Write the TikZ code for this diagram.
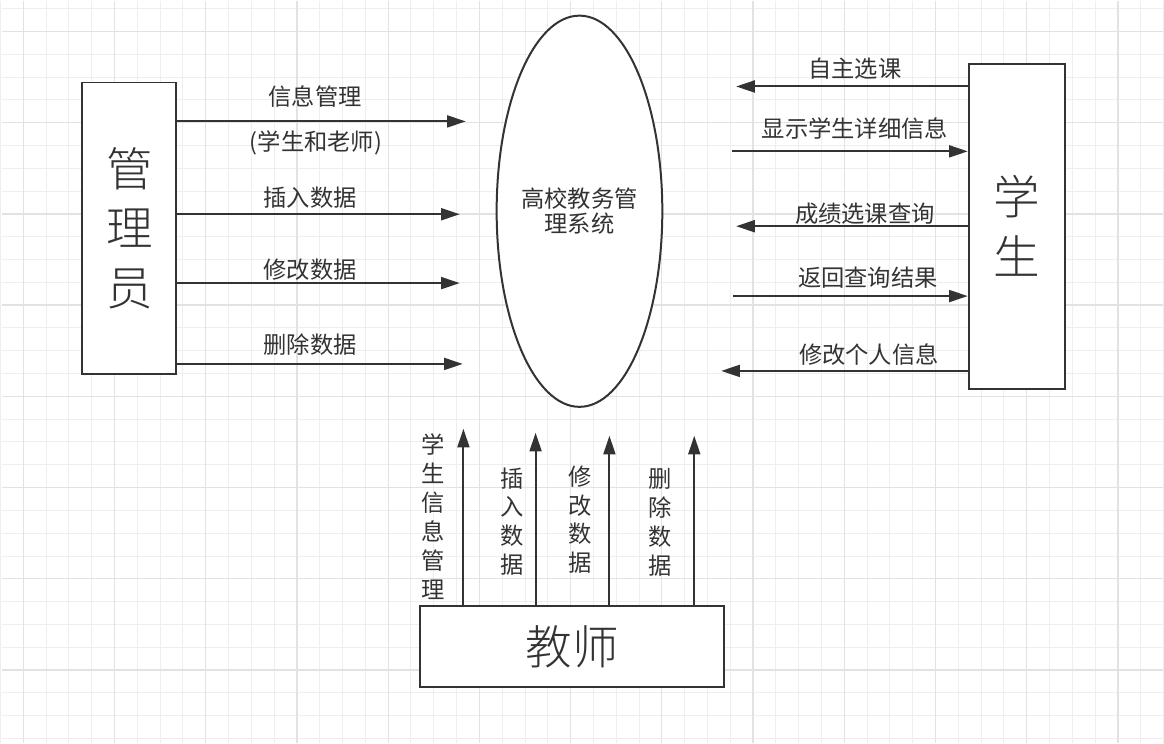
\documentclass[tikz,border=0pt]{standalone}
\usepackage{fontspec}
\newfontfamily\cjk{Noto Sans CJK SC}
\newfontfamily\cjkthin{Noto Sans CJK SC Light}
\usetikzlibrary{shapes.geometric, arrows.meta, positioning}
\definecolor{inkgray}{RGB}{51,51,51}
\definecolor{gridminor}{RGB}{238,238,238}
\definecolor{gridmajor}{RGB}{226,226,226}

\begin{document}
\begin{tikzpicture}[x=0.75pt, y=-0.75pt,
        entity/.style={rectangle, draw=inkgray, fill=white, line width=1.5pt, inner sep=0pt,
                       align=center, text=inkgray, font=\cjkthin\fontsize{35}{45}\selectfont},
        proc/.style={ellipse, draw=inkgray, fill=white, line width=1.5pt, inner sep=0pt,
                     align=center, text=inkgray, font=\cjk\fontsize{17.5}{18.75}\selectfont},
        arr/.style={-{Triangle[length=14pt, width=9pt]}, line width=1.5pt, inkgray},
        lbl/.style={text=inkgray, inner sep=0pt, font=\cjk\fontsize{17.5}{21.75}\selectfont},
        vlbl/.style={lbl, align=center}
    ]
        % background grid
        \fill[white] (0,0) rectangle (1164,744);
        \foreach \i in {0,...,51}
            \draw[gridminor, line width=0.75pt] ({-1.15+22.85*\i},0) -- ++(0,744);
        \foreach \i in {0,...,32}
            \draw[gridminor, line width=0.75pt] (0,{8.05+22.85*\i}) -- ++(1164,0);
        \foreach \i in {0,...,12}
            \draw[gridmajor, line width=1pt] ({21.7+91.4*\i},0) -- ++(0,744);
        \foreach \i in {0,...,7}
            \draw[gridmajor, line width=1pt] (0,{30.9+91.4*\i}) -- ++(1164,0);
        \useasboundingbox (0,0) rectangle (1164,744);

        % entities and process
        \node[entity, minimum width=70.5pt, minimum height=219pt] (admin) at (128,228) {管\\理\\员};
        \node[entity, minimum width=72pt, minimum height=244.5pt] (student) at (1017,226) {学\\生};
        \node[entity, minimum width=228.75pt, minimum height=60.75pt] (teacher) at (571.5,647.5) {教师};
        \node[proc, minimum width=124.5pt, minimum height=294pt] (sys) at (579,211) {高校教务管\\理系统};

        % admin flows
        \coordinate (a1) at (465,121);
        \coordinate (a2) at (459,214);
        \coordinate (a3) at (459,283);
        \coordinate (a4) at (462,364);
        \draw[arr] (admin.east |- a1) -- (a1);
        \draw[arr] (admin.east |- a2) -- (a2);
        \draw[arr] (admin.east |- a3) -- (a3);
        \draw[arr] (admin.east |- a4) -- (a4);
        \node[lbl] (infoMgmt) at (314,96) {信息管理};
        \node[lbl] (infoWho) at (315,143) {(学生和老师)};
        \node[lbl] (adminIns) at (309,197) {插入数据};
        \node[lbl] (adminMod) at (309,270) {修改数据};
        \node[lbl] (adminDel) at (309,345) {删除数据};

        % student flows
        \coordinate (s1) at (736,86);
        \coordinate (s2) at (732,151);
        \coordinate (s3) at (736,226);
        \coordinate (s4) at (733,296);
        \coordinate (s5) at (721,371);
        \draw[arr] (student.west |- s1) -- (s1);
        \draw[arr] (s2) -- (student.west |- s2);
        \draw[arr] (student.west |- s3) -- (s3);
        \draw[arr] (s4) -- (student.west |- s4);
        \draw[arr] (student.west |- s5) -- (s5);
        \node[lbl] (stuSel) at (855,68) {自主选课};
        \node[lbl] (stuShow) at (855,128) {显示学生详细信息};
        \node[lbl] (stuQuery) at (865,213) {成绩选课查询};
        \node[lbl] (stuResult) at (868,278) {返回查询结果};
        \node[lbl] (stuEdit) at (869,355) {修改个人信息};

        % teacher flows
        \coordinate (t1) at (462.7,429);
        \coordinate (t2) at (535,433);
        \coordinate (t3) at (609,436);
        \coordinate (t4) at (694,436);
        \draw[arr] (teacher.north -| t1) -- (t1);
        \draw[arr] (teacher.north -| t2) -- (t2);
        \draw[arr] (teacher.north -| t3) -- (t3);
        \draw[arr] (teacher.north -| t4) -- (t4);
        \node[vlbl] (teaInfo) at (432,517) {学\\生\\信\\息\\管\\理};
        \node[vlbl] (teaIns) at (512,522) {插\\入\\数\\据};
        \node[vlbl] (teaMod) at (580,520) {修\\改\\数\\据};
        \node[vlbl] (teaDel) at (660,523) {删\\除\\数\\据};
    \end{tikzpicture}
\end{document}
